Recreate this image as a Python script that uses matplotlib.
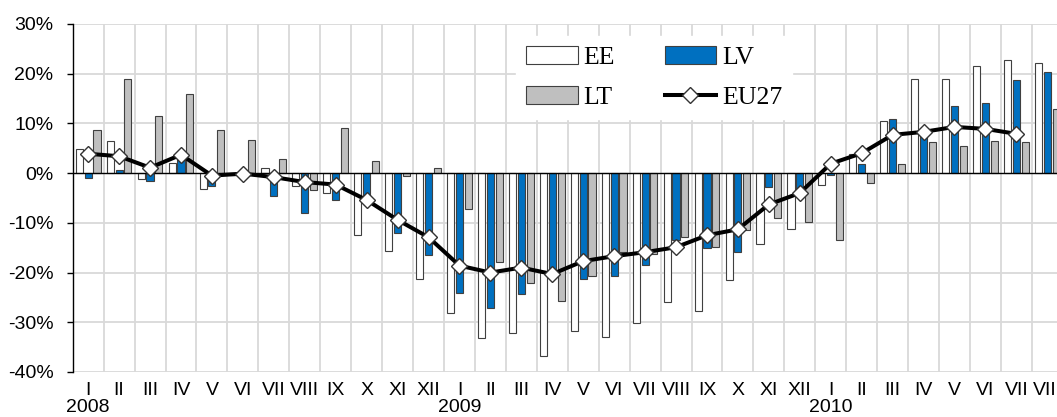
import matplotlib.pyplot as plt
import matplotlib.transforms as mtransforms
import numpy as np

months = ["I", "II", "III", "IV", "V", "VI", "VII", "VIII", "IX", "X", "XI", "XII",
          "I", "II", "III", "IV", "V", "VI", "VII", "VIII", "IX", "X", "XI", "XII",
          "I", "II", "III", "IV", "V", "VI", "VII", "VIII"]
years = ["2008", "2009", "2010"]

ee = [4.8, 6.5, -1.2, 2.1, -3.2, -0.3, 1.1, -2.6, -4.0, -12.5, -15.6, -21.3,
      -28.2, -33.2, -32.2, -36.8, -31.7, -32.9, -30.2, -26.0, -27.8, -21.5, -14.2, -11.3,
      -2.3, 3.9, 10.4, 19.0, 18.9, 21.5, 22.7, 22.1]
lv = [-0.9, 0.6, -1.5, 2.8, -2.6, -0.8, -4.6, -8.1, -5.5, -5.5, -12.1, -16.4,
      -24.1, -27.2, -24.3, -20.6, -21.2, -20.7, -18.4, -13.4, -15.0, -15.9, -2.8, -4.0,
      -0.3, 1.8, 10.9, 8.3, 13.6, 14.2, 18.7, 20.4]
lt = [8.6, 18.9, 11.5, 16.0, 8.7, 6.6, 2.9, -3.4, 9.0, 2.4, -0.5, 1.1,
      -7.2, -17.9, -22.1, -25.7, -20.6, -15.9, -16.3, -12.9, -14.8, -11.4, -9.0, -9.8,
      -13.4, -1.9, 1.8, 6.2, 5.5, 6.4, 6.3, 12.9]
eu27 = [3.9, 3.4, 1.1, 3.7, -0.5, -0.1, -0.8, -1.8, -2.3, -5.4, -9.4, -12.9,
        -18.6, -20.0, -19.0, -20.3, -17.7, -16.7, -15.9, -14.9, -12.5, -11.3, -6.3, -4.0,
        1.9, 4.0, 7.7, 8.3, 9.3, 8.9, 7.9]

plt.rcParams['font.family'] = ['Liberation Sans', 'DejaVu Sans']

W, H = 1057, 417
fig = plt.figure(figsize=(W / 100, H / 100), dpi=100)
cw = 30.94
# plot area runs a few pixels past the right edge, like the reference
ax = fig.add_axes([72.7 / W, 45 / H, 32 * cw / W, 348 / H])

x = np.arange(len(months))
bw = 0.23
off = 0.285
ec = '#404040'
ax.bar(x - off, ee, bw, color='white', edgecolor=ec, linewidth=0.8, label='EE', zorder=3)
ax.bar(x, lv, bw, color='#0070C0', edgecolor=ec, linewidth=0.8, label='LV', zorder=3)
ax.bar(x + off, lt, bw, color='#BFBFBF', edgecolor=ec, linewidth=0.8, label='LT', zorder=3)
ax.plot(np.arange(len(eu27)), eu27, color='black', linewidth=2.9, marker='D', markersize=8,
        markerfacecolor='white', markeredgecolor='#333333', markeredgewidth=1.0,
        label='EU27', zorder=5)

ax.axhline(0, color='black', linewidth=1.0, zorder=4)

ax.set_xlim(-0.5, 31.5)
ax.set_ylim(-40, 30)
ax.set_yticks(np.arange(-40, 31, 10))
ax.set_yticklabels([f"{v}%" for v in range(-40, 31, 10)])

for b in np.arange(0.5, 31.5, 1):
    ax.axvline(b, color='#D9D9D9', linewidth=1.3, zorder=0)
for v in range(-40, 31, 10):
    if v != 0:
        ax.axhline(v, color='#D9D9D9', linewidth=1.3, zorder=0)

ax.set_xticks(x)
ax.set_xticklabels(months)
ax.tick_params(axis='x', length=0, pad=7.5, labelsize=14)
ax.tick_params(axis='y', length=4.3, width=1, direction='out', pad=9.5, labelsize=14)

for s in ['top', 'right', 'bottom']:
    ax.spines[s].set_visible(False)
ax.spines['left'].set_linewidth(1.0)

# year labels under the first month of each year
trans = mtransforms.blended_transform_factory(ax.transData, fig.transFigure)
for i, yr in enumerate(years):
    ax.text(12 * i, 1 / H, yr, transform=trans, ha='center', va='bottom', fontsize=14)

handles, labels = ax.get_legend_handles_labels()
order = [labels.index(n) for n in ['EE', 'LT', 'LV', 'EU27']]
leg = ax.legend([handles[i] for i in order], [labels[i] for i in order], ncol=2,
                loc='upper left', bbox_to_anchor=(516 / W, 1 - 36 / H),
                bbox_transform=fig.transFigure, borderaxespad=0,
                prop={'family': 'Liberation Serif', 'size': 18.5},
                frameon=True, fancybox=False, edgecolor='white', framealpha=1,
                handlelength=2.0, handletextpad=0.23, columnspacing=1.93,
                labelspacing=0.65, borderpad=0.4)
leg.set_zorder(6)

fig.savefig('out.png', dpi=100)
